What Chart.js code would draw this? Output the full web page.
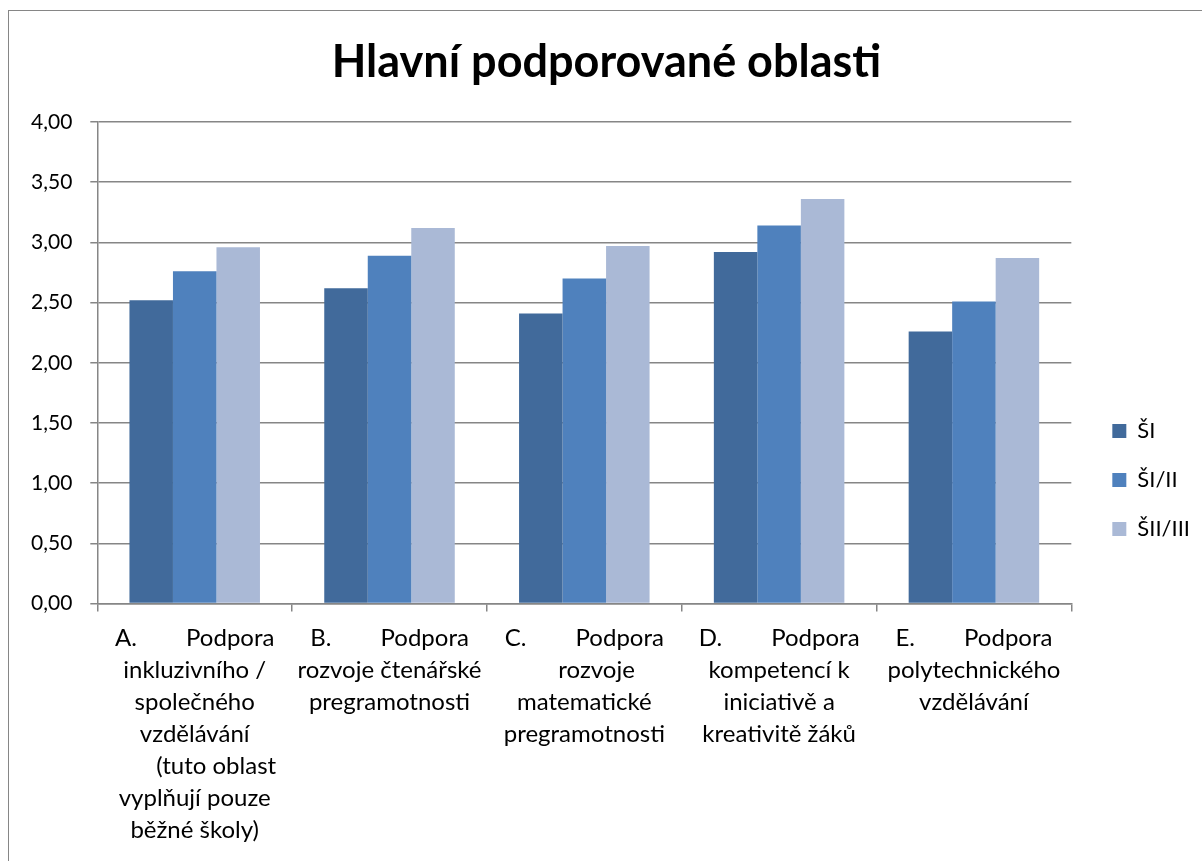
<!DOCTYPE html>
<html>
<head>
<meta charset="utf-8">
<script src="https://cdn.jsdelivr.net/npm/chart.js@4.4.0/dist/chart.umd.min.js"></script>
<style>
  html, body { margin: 0; padding: 0; background: #fff; overflow: hidden; }
  #frame {
    position: absolute; left: 8px; top: 10px; width: 1300px; height: 900px;
    border: 1.5px solid #868686; box-sizing: border-box;
  }
  #wrap { position: absolute; left: 0; top: 0; width: 1202px; height: 861px; }
</style>
</head>
<body>
<div id="frame"></div>
<div id="wrap"><canvas id="chart"></canvas></div>
<script>
const S = "\u00a0";
const categories = [
  ["A." + S.repeat(8) + "Podpora", "inkluzivního /", "společného", "vzdělávání", S.repeat(7) + "(tuto oblast", "vyplňují pouze", "běžné školy)"],
  ["B." + S.repeat(8) + "Podpora", "rozvoje čtenářské", "pregramotnosti"],
  ["C." + S.repeat(8) + "Podpora", S.repeat(4) + "rozvoje", "matematické", "pregramotnosti"],
  ["D." + S.repeat(8) + "Podpora", "kompetencí k", "iniciativě a", "kreativitě žáků"],
  ["E." + S.repeat(8) + "Podpora", "polytechnického", "vzdělávání"]
];
const seriesNames = ["ŠI", "ŠI/II", "ŠII/III"];
const valuesSI = [2.52, 2.62, 2.41, 2.92, 2.26];
const valuesSIII = [2.76, 2.89, 2.70, 3.14, 2.51];
const valuesSIIIII = [2.96, 3.12, 2.97, 3.36, 2.87];
const colors = ["#416a9b", "#4f81bd", "#aab9d6"];

const font = "Lato, 'Open Sans', sans-serif";

const data = {
  labels: categories,
  datasets: [
    { label: seriesNames[0], data: valuesSI, backgroundColor: colors[0] },
    { label: seriesNames[1], data: valuesSIII, backgroundColor: colors[1] },
    { label: seriesNames[2], data: valuesSIIIII, backgroundColor: colors[2] }
  ]
};

const options = {
  responsive: true,
  maintainAspectRatio: false,
  animation: false,
  categoryPercentage: 0.67,
  barPercentage: 1.0,
  layout: { padding: { left: 13, right: 2, top: 35, bottom: 4 } },
  plugins: {
    title: {
      display: true,
      text: "Hlavní podporované oblasti",
      color: "#000",
      font: { family: font, size: 45, weight: "bold", lineHeight: 1.2 },
      padding: { top: 0, bottom: 33 }
    },
    legend: {
      display: true,
      position: "right",
      align: "center",
      // blank title just pushes the items a bit lower
      title: {
        display: true,
        text: " ",
        font: { family: font, size: 20, lineHeight: 1.2 },
        padding: { top: 22, bottom: 22 }
      },
      labels: {
        color: "#000",
        boxWidth: 14,
        boxHeight: 14,
        padding: 27,
        font: { family: font, size: 22 }
      }
    },
    tooltip: { enabled: false }
  },
  scales: {
    x: {
      offset: true,
      grid: {
        offset: true,
        drawOnChartArea: false,
        drawTicks: true,
        tickLength: 8,
        color: "#868686",
        lineWidth: 1.5
      },
      border: { color: "#868686", width: 1.5 },
      ticks: {
        color: "#000",
        maxRotation: 0,
        autoSkip: false,
        padding: 11,
        font: { family: font, size: 24, lineHeight: 1.33 }
      }
    },
    y: {
      min: 0,
      max: 4,
      ticks: {
        stepSize: 0.5,
        color: "#000",
        padding: 18,
        font: { family: font, size: 21 },
        callback: (v) => v.toFixed(2).replace(".", ",")
      },
      grid: { color: "#868686", lineWidth: 1.5, tickLength: 7 },
      border: { color: "#868686", width: 1.5 }
    },
    // empty right-hand axis, only keeps a gap between plot and legend
    gap: {
      type: "linear",
      position: "right",
      display: true,
      grid: { display: false },
      border: { display: false },
      ticks: { display: false },
      afterFit: (scale) => { scale.width = 14; }
    }
  }
};

const config = { type: "bar", data: data, options: options };
const barChart = new Chart(document.querySelector("#chart"), config);
</script>
</body>
</html>
